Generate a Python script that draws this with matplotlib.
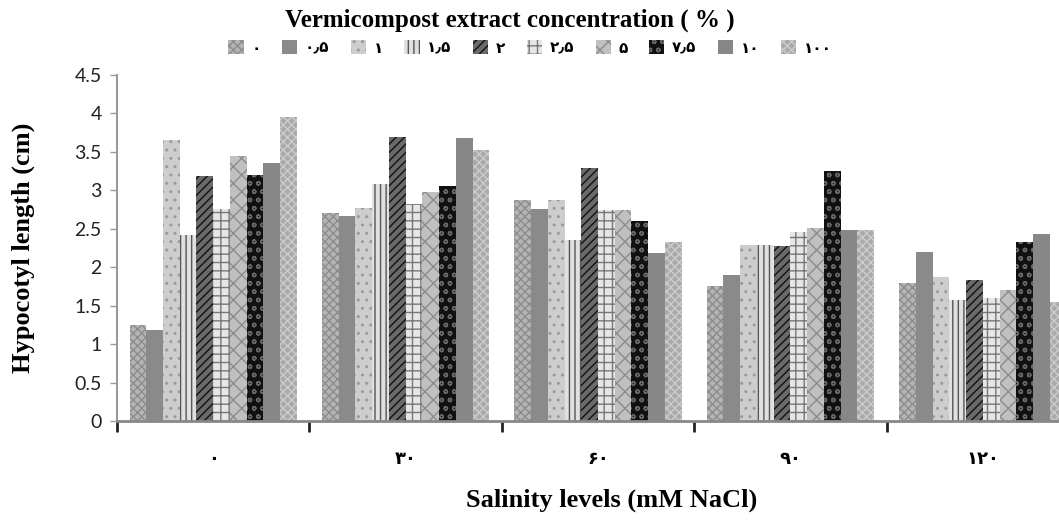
import numpy as np
import matplotlib
matplotlib.use("Agg")
import matplotlib.pyplot as plt

# salinity levels (mM NaCl), Persian digits as in the original
salinity = ["۰", "۳۰", "۶۰", "۹۰", "۱۲۰"]
# vermicompost extract concentration (%)
concentration = ["۰", "۰٫۵", "۱", "۱٫۵", "۲", "۲٫۵", "۵", "۷٫۵", "۱۰", "۱۰۰"]

# hypocotyl length (cm), one list per concentration, values per salinity level
c0 = [1.25, 2.70, 2.87, 1.75, 1.80]
c0_5 = [1.18, 2.67, 2.76, 1.90, 2.20]
c1 = [3.65, 2.77, 2.87, 2.29, 1.87]
c1_5 = [2.42, 3.08, 2.36, 2.29, 1.57]
c2 = [3.18, 3.70, 3.29, 2.27, 1.83]
c2_5 = [2.76, 2.82, 2.74, 2.46, 1.60]
c5 = [3.45, 2.98, 2.74, 2.51, 1.70]
c7_5 = [3.20, 3.05, 2.60, 3.25, 2.33]
c10 = [3.35, 3.68, 2.19, 2.49, 2.43]
c100 = [3.95, 3.52, 2.33, 2.49, 1.55]
series = [c0, c0_5, c1, c1_5, c2, c2_5, c5, c7_5, c10, c100]

# grayscale fills similar to the Excel pattern fills
styles = [
    dict(facecolor="#b4b4b4", hatch="xxxx", edgecolor="#8c8c8c"),
    dict(facecolor="#8a8a8a", hatch="", edgecolor="#8a8a8a"),
    dict(facecolor="#cdcdcd", hatch="..", edgecolor="#9a9a9a"),
    dict(facecolor="#e0e0e0", hatch="|||", edgecolor="#555555"),
    dict(facecolor="#6a6a6a", hatch="////", edgecolor="#111111"),
    dict(facecolor="#e6e6e6", hatch="++", edgecolor="#777777"),
    dict(facecolor="#c0c0c0", hatch="xx", edgecolor="#8c8c8c"),
    dict(facecolor="#111111", hatch="oo", edgecolor="#666666"),
    dict(facecolor="#878787", hatch="", edgecolor="#878787"),
    dict(facecolor="#aaaaaa", hatch="xxxx", edgecolor="#cccccc"),
]

serif = "Liberation Serif"
plt.rcParams["hatch.linewidth"] = 1.0

fig = plt.figure(figsize=(10.59, 5.20), dpi=100)
ax = fig.add_axes([117 / 1059, 99 / 520, 962 / 1059, 346 / 520])

x = np.arange(len(salinity))
w = 0.087
for i, vals in enumerate(series):
    st = styles[i]
    ax.bar(x + (i - 4.5) * w, vals, w, facecolor=st["facecolor"],
           hatch=st["hatch"], edgecolor=st["edgecolor"], linewidth=0,
           label=concentration[i], zorder=2)

ax.set_xlim(-0.5, 4.5)
ax.set_ylim(0, 4.5)
ax.set_yticks(np.arange(0, 4.51, 0.5))
ax.set_yticklabels(["0", "0.5", "1", "1.5", "2", "2.5", "3", "3.5", "4", "4.5"],
                   fontsize=14, fontfamily="Lato", color="#222222")
ax.tick_params(axis="y", length=5, width=1, color="#999999", pad=6)

ax.set_xticks(np.arange(-0.5, 4.6, 1))
ax.set_xticklabels([])
ax.tick_params(axis="x", which="major", length=8, width=2, color="#222222",
               direction="out")
ax.set_xticks(x, minor=True)
ax.set_xticklabels(salinity, minor=True, fontsize=13, fontweight="bold",
                   fontfamily=["DejaVu Sans"])
ax.tick_params(axis="x", which="minor", length=0, pad=21)

for s in ["top", "right"]:
    ax.spines[s].set_visible(False)
ax.spines["left"].set_color("#999999")
ax.spines["left"].set_linewidth(1.5)
ax.spines["bottom"].set_color("#888888")
ax.spines["bottom"].set_linewidth(2)

ax.set_ylabel("Hypocotyl length (cm)", fontsize=19, fontweight="bold",
              fontfamily=serif)
ax.yaxis.set_label_coords(-0.085, 0.5)

fig.text(612 / 1059, 1 - 500 / 520, "Salinity levels (mM NaCl)", fontsize=19,
         fontweight="bold", fontfamily=serif, ha="center", va="center")
fig.text(510 / 1059, 1 - 20 / 520, "Vermicompost extract concentration ( % )",
         fontsize=18, fontweight="bold", fontfamily=serif, ha="center",
         va="center")

leg = fig.legend(loc="center", bbox_to_anchor=(530 / 1059, 1 - 48 / 520),
                 ncol=10, frameon=False, handlelength=1.0, handleheight=1.0,
                 handletextpad=0.5, columnspacing=1.4,
                 prop={"family": "DejaVu Sans", "size": 11, "weight": "bold"})

fig.savefig("out.png", dpi=100)
